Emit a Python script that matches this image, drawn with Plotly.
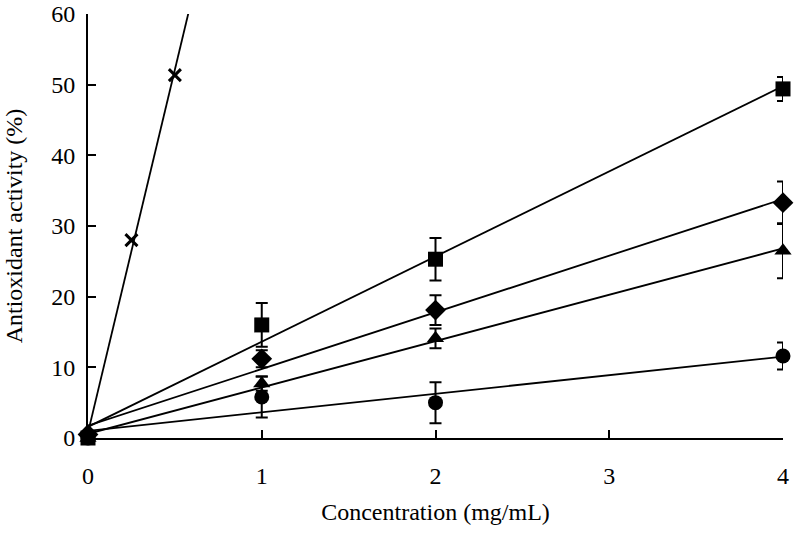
import numpy as np
import plotly.graph_objects as go

# Data
conc = [0, 1, 2, 4]
square_vals = [0.0, 16.0, 25.3, 49.4]
square_err = [0.5, 3.1, 3.0, 1.7]
diamond_vals = [0.5, 11.2, 18.1, 33.3]
diamond_err = [0.5, 1.2, 2.1, 3.0]
triangle_vals = [0.0, 7.7, 14.1, 26.5]
triangle_err = [0.5, 1.0, 1.4, 3.9]
circle_vals = [0.0, 5.8, 5.0, 11.6]
circle_err = [0.5, 2.9, 2.9, 1.9]
std_conc = [0, 0.25, 0.5]
std_vals = [0.0, 28.0, 51.35]

x_ticks = [0, 1, 2, 3, 4]
y_ticks = [0, 10, 20, 30, 40, 50, 60]

FONT = "Liberation Serif, Times New Roman, serif"
fig = go.Figure()

def add_fit(xs, ys, x_end):
    m, b = np.polyfit(xs, ys, 1)
    xf = np.array([min(xs), x_end])
    fig.add_trace(go.Scatter(x=xf, y=m * xf + b, mode="lines",
                             line=dict(color="black", width=1.8),
                             showlegend=False, hoverinfo="skip"))

series = [
    (square_vals, square_err, "square"),
    (diamond_vals, diamond_err, "diamond"),
    (triangle_vals, triangle_err, "triangle-up"),
    (circle_vals, circle_err, "circle"),
]
for vals, err, sym in series:
    add_fit(conc, vals, max(conc))
add_fit(std_conc, std_vals, 1.0)

for vals, err, sym in series:
    fig.add_trace(go.Scatter(
        x=conc, y=vals, mode="markers",
        marker=dict(symbol=sym, size=15 if sym != "diamond" else 16, color="black"),
        error_y=dict(type="data", array=err, visible=True, color="black",
                     thickness=2, width=6),
        showlegend=False, cliponaxis=False))

fig.add_trace(go.Scatter(
    x=std_conc[1:], y=std_vals[1:], mode="markers",
    marker=dict(symbol="x-thin", size=12, color="black",
                line=dict(color="black", width=3)),
    showlegend=False))

fig.update_layout(
    width=794, height=535,
    margin=dict(l=88, r=11, t=14, b=97),
    paper_bgcolor="white", plot_bgcolor="white",
    font=dict(family=FONT, size=24, color="black"),
    xaxis=dict(range=[0, 4], tickvals=x_ticks, ticktext=[str(t) for t in x_ticks],
               showgrid=False, zeroline=False, showline=True, linecolor="black",
               linewidth=2, ticks="inside", ticklen=8, tickwidth=2, tickcolor="black",
               automargin=False, ticklabeloverflow="allow",
               title=dict(text="Concentration (mg/mL)", font=dict(size=24), standoff=15),
               ticklabelstandoff=15),
    yaxis=dict(range=[0, 60], tickvals=y_ticks, ticktext=[str(t) for t in y_ticks],
               showgrid=False, zeroline=False, showline=True, linecolor="black",
               linewidth=2, ticks="inside", ticklen=8, tickwidth=2, tickcolor="black",
               automargin=False, ticklabeloverflow="allow",
               title=dict(text="Antioxidant activity (%)", font=dict(size=24), standoff=22),
               ticklabelstandoff=6),
)

fig.write_html("out.html", config={"displayModeBar": False},
               post_script="document.body.style.margin='0';document.body.style.overflow='hidden';")
